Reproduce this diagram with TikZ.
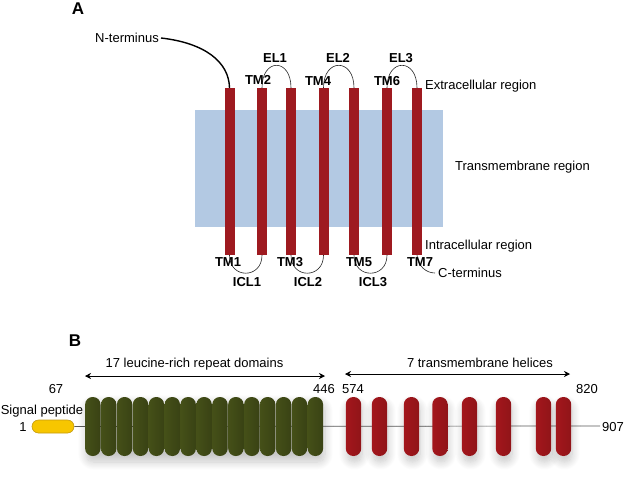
\documentclass[tikz,border=0pt]{standalone}
\usepackage{fontspec}
\setmainfont{Liberation Sans}
\usetikzlibrary{arrows.meta,shadows.blur}
\definecolor{barred}{HTML}{9E1A20}
\definecolor{pillred}{HTML}{A3161C}
\definecolor{pillreddark}{HTML}{8E1418}
\definecolor{bandblue}{HTML}{B3C9E3}
\definecolor{olive}{HTML}{455018}
\definecolor{olivedark}{HTML}{394214}
\definecolor{spyellow}{HTML}{F7C600}
\definecolor{spborder}{HTML}{C49A10}
\begin{document}
\begin{tikzpicture}[x=1pt,y=-1pt,
  txt/.style={font=\fontsize{13}{15}\selectfont, inner sep=0pt},
  bld/.style={font=\fontsize{13}{15}\selectfont\bfseries, inner sep=0pt},
  panel/.style={font=\fontsize{17}{19}\selectfont\bfseries, inner sep=0pt},
  bar/.style={fill=barred, minimum width=10pt, minimum height=167pt, inner sep=0pt},
  loopline/.style={draw=black!85, line width=0.6pt},
  pill/.style={minimum width=15.4pt, minimum height=59pt, inner sep=0pt, rounded corners=7.5pt},
  greenpill/.style={pill, left color=olive, right color=olivedark},
  redpill/.style={pill, left color=pillred, right color=pillreddark!90!pillred},
  shadowst/.style={blur shadow={shadow xshift=1pt, shadow yshift=-6pt, shadow opacity=22, shadow blur radius=8pt, shadow blur steps=12}},
  dbl/.style={{Stealth[length=6pt,width=6pt]}-{Stealth[length=6pt,width=6pt]}, line width=0.6pt}
]
\useasboundingbox (0,0) rectangle (624,485);

% ---------------- Panel A ----------------
\node[panel] (labA) at (78,9) {A};
\node[fill=bandblue, minimum width=248pt, minimum height=117pt, inner sep=0pt] (band) at (319,168.5) {};

\foreach \n/\x in {1/229.5,2/262,3/291,4/323.5,5/354,6/387,7/417}
  \node[bar] (tm\n) at (\x,171.5) {};

% extracellular loops
\draw[loopline] (tm2.north) .. controls +(0,-30) and +(0,-30) .. (tm3.north);
\draw[loopline] (tm4.north) .. controls +(0,-30) and +(0,-30) .. (tm5.north);
\draw[loopline] (tm6.north) .. controls +(0,-30) and +(0,-30) .. (tm7.north);
% intracellular loops
\draw[loopline] (tm1.south) .. controls +(0,24) and +(0,24) .. (tm2.south);
\draw[loopline] (tm3.south) .. controls +(0,24) and +(0,24) .. (tm4.south);
\draw[loopline] (tm5.south) .. controls +(0,24) and +(0,24) .. (tm6.south);

% termini
\node[txt, anchor=east] (nterm) at (159,38) {N-terminus};
\draw[line width=1.4pt] ([xshift=2pt]nterm.east) .. controls (205,43) and (229,62) .. (tm1.north);
\node[txt, anchor=west] (cterm) at (438,273) {C-terminus};
\draw[loopline] (tm7.south) .. controls (418,266) and (426,273) .. ([xshift=-3pt]cterm.west);

% TM labels
\node[bld] (ltm1) at (228,262) {TM1};
\node[bld] (ltm2) at (258,80) {TM2};
\node[bld] (ltm3) at (290,262) {TM3};
\node[bld] (ltm4) at (318,81) {TM4};
\node[bld] (ltm5) at (359,262) {TM5};
\node[bld] (ltm6) at (387,81) {TM6};
\node[bld] (ltm7) at (420,262) {TM7};
\node[bld] (lel1) at (275,58) {EL1};
\node[bld] (lel2) at (338,58) {EL2};
\node[bld] (lel3) at (401,58) {EL3};
\node[bld] (licl1) at (247,282) {ICL1};
\node[bld] (licl2) at (308,282) {ICL2};
\node[bld] (licl3) at (373,282) {ICL3};

% region labels
\node[txt, anchor=west] (extra) at (425,86) {Extracellular region};
\node[txt, anchor=west] (trans) at (455,167) {Transmembrane region};
\node[txt, anchor=west] (intra) at (425,246) {Intracellular region};

% ---------------- Panel B ----------------
\node[panel] (labB) at (75,341) {B};

\node[txt] (lrr) at (194.5,364) {17 leucine-rich repeat domains};
\coordinate (lrrL) at (85,376);
\coordinate (lrrR) at (325,376);
\draw[dbl] (lrrL) -- (lrrR);
\node[txt] (tmh) at (480,363) {7 transmembrane helices};
\coordinate (tmhL) at (345,374);
\coordinate (tmhR) at (570,374);
\draw[dbl] (tmhL) -- (tmhR);

\node[txt] (n67) at (56,389) {67};
\node[txt] (n446) at (324,389) {446};
\node[txt] (n574) at (353,389) {574};
\node[txt] (n820) at (587,389) {820};
\node[txt] (sigp) at (42,411) {Signal peptide};
\node[txt] (n1) at (23,427) {1};
\node[txt, anchor=west] (n907) at (602,427) {907};

% signal peptide pill
\node[fill=spyellow, draw=spborder, line width=0.6pt, minimum width=42pt, minimum height=13pt,
      inner sep=0pt, rounded corners=6.5pt] (sp) at (53,426.5) {};
\coordinate (lineend) at (600,426);
\draw[black!65, line width=0.7pt] (sp.east) -- (lineend);

% shadows
\path[shadowst, rounded corners=7.5pt] (85,397) rectangle (324,456);
\foreach \x in {353.5,379.5,411.5,440,469.5,503.5,543.5,563.5}
  \path[shadowst, rounded corners=7.5pt] (\x-7.5,397) rectangle (\x+7.5,456);

% green pills
\foreach \i in {0,...,14}
  \node[greenpill] (g\i) at (92.8+15.9*\i,426.5) {};
% red pills
\foreach \x [count=\k] in {353.5,379.5,411.5,440,469.5,503.5,543.5,563.5}
  \node[redpill] (r\k) at (\x,426.5) {};

\end{tikzpicture}
\end{document}
